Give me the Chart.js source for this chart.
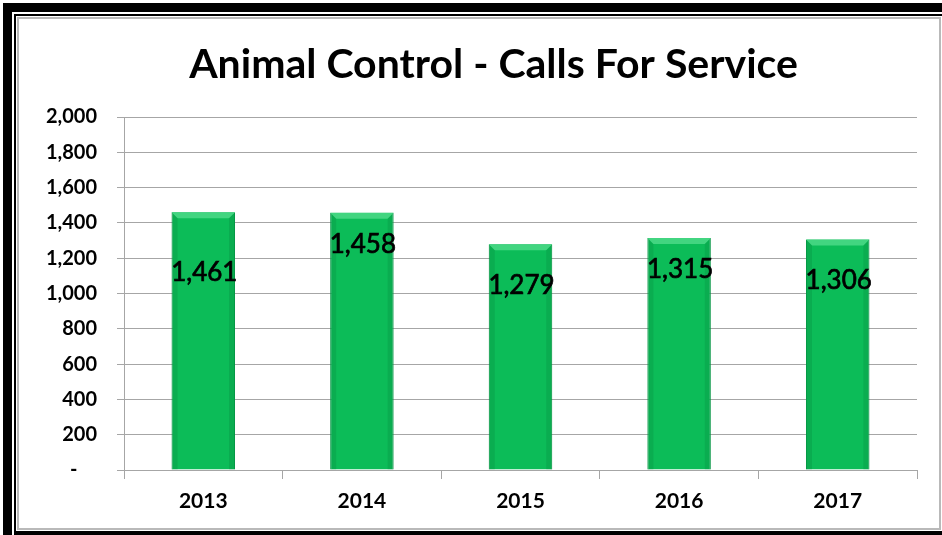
<!DOCTYPE html>
<html>
<head>
<meta charset="utf-8">
<script src="https://cdn.jsdelivr.net/npm/chart.js@4.4.1/dist/chart.umd.min.js"></script>
<style>
    body { margin: 0; width: 942px; height: 535px; overflow: hidden; background: #fff; position: relative; }
    #outerBorder { position: absolute; left: 3px; top: 3px; width: 1000px; height: 1000px; border-left: 9px solid #000; border-top: 9px solid #000; }
    #innerBorder { position: absolute; left: 14px; top: 14px; width: 1000px; height: 521px; box-sizing: border-box; border: 2px solid #000; border-bottom-width: 4px; background: #fff; }
    #frame { position: absolute; left: 17px; top: 17px; width: 924px; height: 513px; box-sizing: border-box; border: 2px solid #b9b9b9; background: #fff; overflow: hidden; }
    #chartCanvas { display: block; }
</style>
</head>
<body>
<div id="outerBorder"></div>
<div id="innerBorder"></div>
<div id="frame"><canvas id="chartCanvas" width="949" height="509"></canvas></div>
<script>
// chart data
const chartTitle = 'Animal Control - Calls For Service';
const years = ['2013', '2014', '2015', '2016', '2017'];
const calls = [1461, 1458, 1279, 1315, 1306];
const yTicks = [0, 200, 400, 600, 800, 1000, 1200, 1400, 1600, 1800, 2000];

// labels were moved by hand in the original, so each one sits a bit differently below the bar top (px)
const labelDrop = [60, 32, 41, 32, 41];

const gridGray = '#a6a6a6';

// Plugin for the title (it is centred on the whole frame, not on the plot)
const titleText = {
    id: 'titleText',
    afterDraw(chart) {
        let ctx = chart.ctx;
        ctx.save();
        ctx.fillStyle = '#000';
        ctx.font = 'bold 41px Lato';
        ctx.textAlign = 'center';
        ctx.textBaseline = 'alphabetic';
        ctx.fillText(chartTitle, chart.width / 2, 59);
        ctx.restore();
    }
};

// Plugin for the bevel on the bars and the value labels
const barDecor = {
    id: 'barDecor',
    afterDatasetsDraw(chart) {
        let ctx = chart.ctx;
        let meta = chart.getDatasetMeta(0);
        meta.data.forEach((bar, i) => {
            let left = bar.x - bar.width / 2;
            let right = bar.x + bar.width / 2;
            let top = bar.y;
            let bottom = bar.base;
            let b = 6;
            ctx.save();
            // top bevel
            ctx.fillStyle = '#42d580';
            ctx.beginPath();
            ctx.moveTo(left, top);
            ctx.lineTo(right, top);
            ctx.lineTo(right - b, top + b);
            ctx.lineTo(left + b, top + b);
            ctx.closePath();
            ctx.fill();
            // side bevels
            ctx.fillStyle = 'rgba(0,90,40,0.15)';
            ctx.beginPath();
            ctx.moveTo(left, top);
            ctx.lineTo(left + b, top + b);
            ctx.lineTo(left + b, bottom);
            ctx.lineTo(left, bottom);
            ctx.closePath();
            ctx.fill();
            ctx.beginPath();
            ctx.moveTo(right, top);
            ctx.lineTo(right - b, top + b);
            ctx.lineTo(right - b, bottom);
            ctx.lineTo(right, bottom);
            ctx.closePath();
            ctx.fill();
            // value label
            ctx.fillStyle = '#000';
            ctx.strokeStyle = '#000';
            ctx.lineWidth = 0.7;
            ctx.font = '26px Lato';
            ctx.textAlign = 'center';
            ctx.textBaseline = 'middle';
            let txt = calls[i].toLocaleString('en-US');
            ctx.fillText(txt, bar.x + 1, top + labelDrop[i]);
            ctx.strokeText(txt, bar.x + 1, top + labelDrop[i]);
            ctx.restore();
        });
    }
};

const data = {
    labels: years,
    datasets: [{
        data: calls,
        backgroundColor: '#0cbc58',
        borderColor: '#07a44a',
        borderWidth: 1,
        barPercentage: 1,
        categoryPercentage: 0.4
    }]
};

const config = {
    type: 'bar',
    data: data,
    plugins: [barDecor, titleText],
    options: {
        responsive: false,
        animation: false,
        devicePixelRatio: 1,
        layout: {
            padding: { left: 0, right: 51, top: 98, bottom: 0 }
        },
        plugins: {
            legend: { display: false },
            tooltip: { enabled: false },
            title: { display: false }
        },
        scales: {
            x: {
                grid: {
                    drawOnChartArea: false,
                    drawTicks: true,
                    tickLength: 9,
                    color: gridGray
                },
                border: { color: gridGray },
                ticks: {
                    color: '#000',
                    padding: 10,
                    font: { family: 'Lato', size: 21, weight: 'bold' }
                },
                afterFit(scale) { scale.height = 58; }
            },
            y: {
                min: 0,
                max: 2000,
                afterBuildTicks(scale) { scale.ticks = yTicks.map(v => ({ value: v })); },
                grid: {
                    color: gridGray,
                    tickLength: 7
                },
                border: { color: gridGray },
                ticks: {
                    color: '#000',
                    padding: 20,
                    font: { family: 'Lato', size: 20, weight: 'bold' },
                    callback: v => v === 0 ? '-    ' : v.toLocaleString('en-US')
                },
                afterFit(scale) { scale.width = 105; }
            }
        }
    }
};

new Chart(document.getElementById('chartCanvas'), config);
</script>
</body>
</html>
